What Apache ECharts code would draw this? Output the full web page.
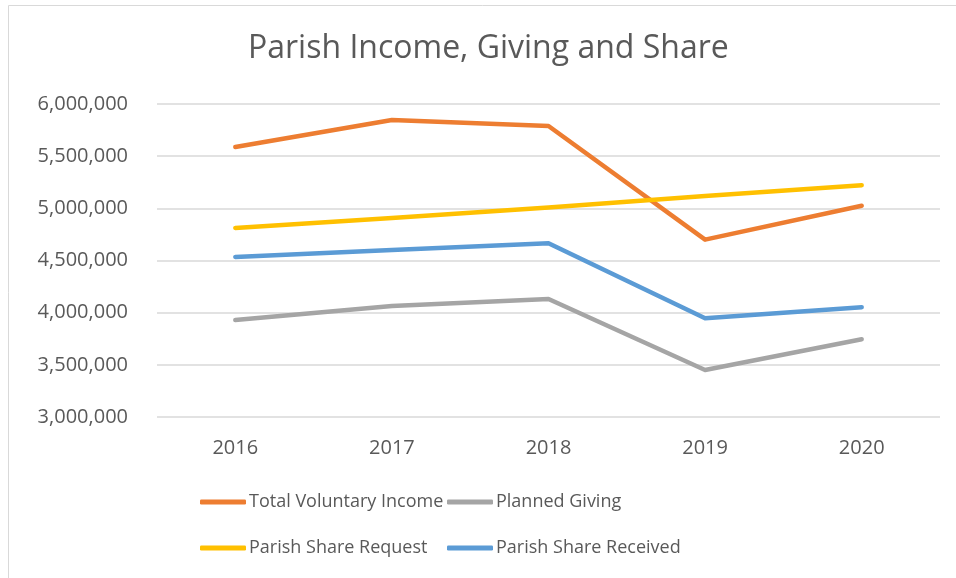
<!DOCTYPE html>
<html>
<head>
<meta charset="utf-8">
<script src="https://cdn.jsdelivr.net/npm/echarts@6/dist/echarts.min.js"></script>
<style>
  html, body { margin: 0; padding: 0; background: #fff; }
  #chart { width: 956px; height: 578px; }
</style>
</head>
<body>
<div id="chart"></div>
<script>
const years = ['2016', '2017', '2018', '2019', '2020'];
const totalVoluntaryIncome = [5588000, 5847000, 5789000, 4700000, 5025000];
const plannedGiving = [3930000, 4064000, 4131000, 3450000, 3745000];
const parishShareRequest = [4812000, 4907000, 5008000, 5118000, 5221000];
const parishShareReceived = [4534000, 4601000, 4666000, 3947000, 4052000];

const textColor = '#595959';
const font = 'Open Sans';

const chart = echarts.init(document.getElementById('chart'));

function line(name, data, color) {
  return {
    name: name,
    type: 'line',
    data: data,
    symbol: 'none',
    lineStyle: { color: color, width: 4.5, cap: 'round', join: 'round' },
    itemStyle: { color: color },
  };
}

const legendStyle = {
  orient: 'vertical',
  top: 485,
  itemWidth: 46,
  itemHeight: 5,
  itemGap: 22,
  icon: 'roundRect',
  textStyle: { color: textColor, fontSize: 18, lineHeight: 24, fontFamily: font, padding: [0, 0, 0, -2] },
};

chart.setOption({
  animation: false,
  title: {
    text: 'Parish Income, Giving and Share',
    left: 248,
    top: 33,
    padding: 0,
    textStyle: { color: textColor, fontSize: 32, fontWeight: 'normal', fontFamily: font },
  },
  graphic: [{
    type: 'rect',
    shape: { x: 8.5, y: 5.5, width: 1000, height: 1000 },
    style: { fill: 'none', stroke: '#D9D9D9', lineWidth: 1 },
    silent: true,
  }],
  legend: [
    Object.assign({ left: 195, data: ['Total Voluntary Income', 'Parish Share Request'] }, legendStyle),
    Object.assign({ left: 442, data: ['Planned Giving', 'Parish Share Received'] }, legendStyle),
  ],
  grid: { left: 157, right: 16, top: 104, bottom: 161 },
  xAxis: {
    type: 'category',
    data: years,
    axisLine: { show: false },
    axisTick: { show: false },
    axisLabel: { color: textColor, fontSize: 20, fontFamily: font, margin: 21 },
  },
  yAxis: {
    type: 'value',
    min: 3000000,
    max: 6000000,
    interval: 500000,
    axisLabel: {
      color: textColor,
      fontSize: 20,
      fontFamily: font,
      margin: 29,
      formatter: v => v.toLocaleString('en-US'),
    },
    splitLine: { lineStyle: { color: '#D9D9D9', width: 1.5 } },
  },
  series: [
    line('Total Voluntary Income', totalVoluntaryIncome, '#ED7D31'),
    line('Planned Giving', plannedGiving, '#A5A5A5'),
    line('Parish Share Request', parishShareRequest, '#FFC000'),
    line('Parish Share Received', parishShareReceived, '#5B9BD5'),
  ],
});
</script>
</body>
</html>
